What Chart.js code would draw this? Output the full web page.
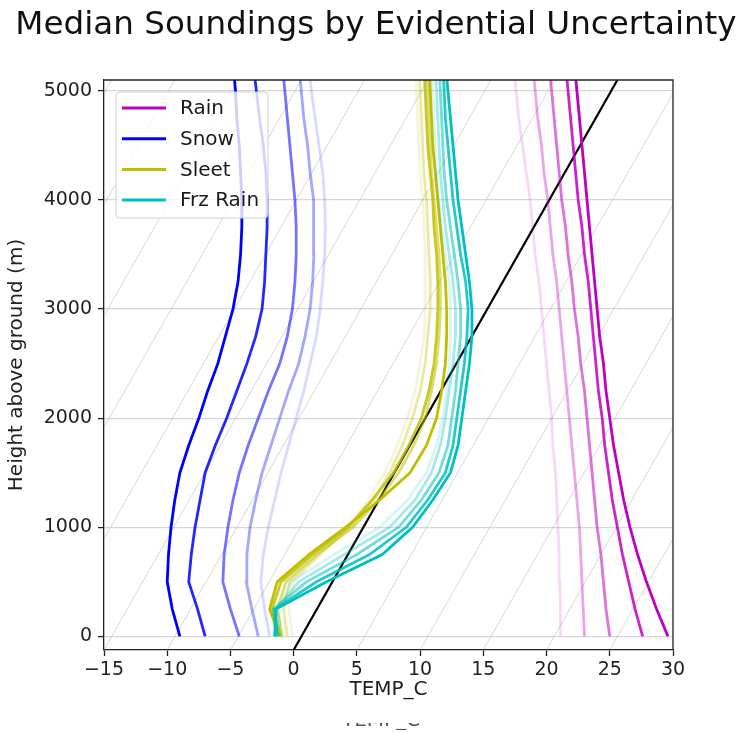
<!DOCTYPE html>
<html>
<head>
<meta charset="utf-8">
<script src="https://cdn.jsdelivr.net/npm/chart.js@4.4.1/dist/chart.umd.min.js"></script>
<style>
html,body{margin:0;padding:0;background:#fff;}
#wrap{position:relative;width:749px;height:733px;overflow:hidden;background:#fff;}
canvas{display:block;}
#title{position:absolute;left:0;top:7px;width:752px;text-align:center;font:32.6px "DejaVu Sans";line-height:1;color:#111;white-space:nowrap;}
#ghost{position:absolute;left:330px;top:723px;width:110px;height:7px;overflow:hidden;}
#ghost span{position:absolute;left:12px;top:-15.6px;font:20px "DejaVu Sans";color:#555;white-space:nowrap;}
</style>
</head>
<body>
<div id="wrap">
<canvas id="c" width="749" height="733"></canvas>
<div id="title">Median Soundings by Evidential Uncertainty</div>
<div id="ghost"><span>TEMP_C</span></div>
</div>
<script>
// ---- data ----
const heights = [0,250,500,750,1000,1250,1500,1750,2000,2250,2500,2750,3000,3250,3500,3750,4000,4250,4500,4750,5000,5250];

const rain1 = [29.6,28.7,27.9,27.2,26.6,26.1,25.7,25.3,25.0,24.7,24.5,24.2,24.0,23.8,23.6,23.4,23.2,23.0,22.8,22.6,22.4,22.2];
const rain2 = [27.6,27.0,26.5,26.0,25.6,25.2,24.9,24.6,24.4,24.1,23.9,23.7,23.5,23.3,23.0,22.8,22.5,22.3,22.1,21.9,21.7,21.5];
const rain3 = [25.0,24.7,24.5,24.3,24.0,23.8,23.6,23.4,23.2,23.0,22.7,22.5,22.2,22.0,21.7,21.5,21.2,21.0,20.8,20.6,20.4,20.2];
const rain4 = [23.0,22.9,22.8,22.7,22.6,22.4,22.2,22.0,21.8,21.6,21.4,21.2,21.0,20.8,20.5,20.3,20.1,19.8,19.6,19.3,19.1,18.9];
const rain5 = [21.1,21.1,21.05,21.0,20.9,20.8,20.7,20.5,20.4,20.2,20.0,19.8,19.6,19.4,19.1,18.9,18.7,18.4,18.1,17.8,17.6,17.4];

const snow1 = [-9.0,-9.6,-10.0,-9.9,-9.7,-9.4,-9.0,-8.3,-7.5,-6.8,-6.0,-5.4,-4.8,-4.4,-4.2,-4.1,-4.1,-4.2,-4.3,-4.5,-4.6,-4.8];
const snow2 = [-7.0,-7.6,-8.3,-8.1,-7.8,-7.4,-7.0,-6.2,-5.3,-4.5,-3.7,-3.0,-2.5,-2.3,-2.2,-2.1,-2.1,-2.2,-2.4,-2.7,-2.95,-3.2];
const snow3 = [-4.3,-5.0,-5.6,-5.5,-5.2,-4.8,-4.3,-3.6,-2.8,-2.0,-1.1,-0.5,-0.1,0.1,0.2,0.2,0.1,-0.1,-0.3,-0.5,-0.7,-0.9];
const snow4 = [-2.8,-3.3,-3.75,-3.7,-3.45,-3.0,-2.5,-1.8,-1.1,-0.4,0.4,0.9,1.3,1.5,1.6,1.6,1.55,1.3,1.1,0.8,0.6,0.4];
const snow5 = [-1.9,-2.3,-2.6,-2.4,-2.0,-1.5,-1.0,-0.4,0.2,0.8,1.3,1.8,2.1,2.3,2.45,2.5,2.45,2.3,2.0,1.7,1.4,1.2];

const sleet1 = [-1.1,-1.9,-1.3,1.2,4.1,6.8,9.2,10.5,11.3,11.7,12.0,12.1,12.1,12.0,11.8,11.6,11.4,11.2,11.0,10.9,10.8,10.7];
const sleet2 = [-1.0,-1.7,-1.0,1.5,4.3,6.2,7.9,9.1,10.1,10.7,11.1,11.3,11.4,11.4,11.3,11.1,11.0,10.8,10.6,10.5,10.4,10.3];
const sleet3 = [-0.9,-1.3,-0.6,1.8,4.7,6.7,8.3,9.5,10.4,10.9,11.3,11.5,11.6,11.6,11.5,11.3,11.1,10.9,10.8,10.7,10.6,10.5];
const sleet4 = [-0.5,-0.8,-0.3,2.0,4.5,6.3,7.6,8.6,9.4,10.0,10.4,10.6,10.8,10.8,10.7,10.6,10.5,10.3,10.2,10.1,10.0,9.9];
const sleet5 = [-0.1,-0.4,0.0,2.1,4.3,5.9,7.2,8.2,9.0,9.6,10.0,10.3,10.4,10.4,10.4,10.3,10.2,10.0,9.9,9.8,9.7,9.6];

const frz1 = [-1.5,-1.4,2.6,7.0,9.4,11.0,12.4,13.0,13.3,13.6,13.9,14.1,14.1,13.9,13.6,13.3,13.0,12.8,12.6,12.4,12.2,12.0];
const frz2 = [-1.3,-1.5,1.8,6.0,8.9,10.6,12.0,12.6,12.9,13.2,13.5,13.7,13.8,13.6,13.2,12.9,12.6,12.4,12.2,12.0,11.9,11.8];
const frz3 = [-1.4,-1.6,1.0,5.0,8.3,10.1,11.5,12.2,12.5,12.8,13.0,13.2,13.2,13.0,12.7,12.4,12.1,11.9,11.8,11.7,11.6,11.5];
const frz4 = [-1.2,-1.4,0.4,4.0,7.6,9.6,10.9,11.6,12.0,12.3,12.6,12.8,12.8,12.6,12.3,12.0,11.8,11.6,11.5,11.4,11.3,11.2];
const frz5 = [-1.0,-1.2,-0.2,3.2,6.8,9.0,10.5,11.3,11.8,12.1,12.3,12.4,12.4,12.3,12.0,11.7,11.5,11.3,11.2,11.1,11.0,10.9];

const classNames = ['Rain','Snow','Sleet','Frz Rain'];
const xTicks = [-15,-10,-5,0,5,10,15,20,25,30];
const yTicks = [0,1000,2000,3000,4000,5000];
const isothermBases = [-45,-40,-35,-30,-25,-20,-15,-10,-5,0,5,10,15,20,25,30];
const skew = 0.0049;          // deg C of horizontal shift per metre
const xMin = -15, xMax = 30, yMin = -125, yMax = 5100;

// ---- styling ----
const FONT = '"DejaVu Sans", sans-serif';
const classColors = {
  'Rain': [191,0,191],
  'Snow': [0,0,255],
  'Sleet': [191,191,0],
  'Frz Rain': [0,191,191]
};
const alphas = [1.0, 0.85, 0.55, 0.35, 0.15];
const rgba = (c,a) => `rgba(${c[0]},${c[1]},${c[2]},${a})`;

const groups = [
  ['Rain', [rain1,rain2,rain3,rain4,rain5], 400],
  ['Snow', [snow1,snow2,snow3,snow4,snow5], 300],
  ['Sleet', [sleet1,sleet2,sleet3,sleet4,sleet5], 200],
  ['Frz Rain', [frz1,frz2,frz3,frz4,frz5], 100]
];

const datasets = [];
// skewed isotherms (gray) and the 0 deg isotherm (black)
isothermBases.forEach(t0 => {
  datasets.push({
    data: [{x: t0, y: yMin}, {x: t0 + skew*(yMax - yMin), y: yMax}],
    borderColor: t0 === 0 ? '#000000' : 'rgba(160,160,160,0.42)',
    borderWidth: t0 === 0 ? 2.2 : 1,
    pointRadius: 0, showLine: true, tension: 0, clip: 0,
    order: t0 === 0 ? 500 : 1000
  });
});
groups.forEach(([name, lines, baseOrder]) => {
  lines.forEach((arr, k) => {
    datasets.push({
      label: name,
      data: heights.map((h, i) => ({x: arr[i], y: h})),
      borderColor: rgba(classColors[name], alphas[k]),
      borderWidth: 2.8,
      pointRadius: 0, showLine: true, tension: 0, clip: 0,
      order: baseOrder + k
    });
  });
});

const framePlugin = {
  id: 'frame',
  afterDatasetsDraw(chart) {
    const ctx = chart.ctx, a = chart.chartArea;
    // legend box
    const x0 = a.left + 12, y0 = a.top + 12, w = 152, h = 126;
    ctx.save();
    ctx.beginPath();
    if (ctx.roundRect) ctx.roundRect(x0, y0, w, h, 4); else ctx.rect(x0, y0, w, h);
    ctx.fillStyle = 'rgba(255,255,255,0.8)';
    ctx.fill();
    ctx.strokeStyle = '#cfcfcf';
    ctx.lineWidth = 1;
    ctx.stroke();
    classNames.forEach((name, i) => {
      const yy = y0 + 16 + i * 30.7;
      ctx.beginPath();
      ctx.moveTo(x0 + 6, yy);
      ctx.lineTo(x0 + 50, yy);
      ctx.strokeStyle = rgba(classColors[name], 1);
      ctx.lineWidth = 3;
      ctx.stroke();
      ctx.fillStyle = '#1a1a1a';
      ctx.font = '20px ' + FONT;
      ctx.textBaseline = 'middle';
      ctx.textAlign = 'left';
      ctx.fillText(name, x0 + 64, yy + 1);
    });
    // top and right spines
    ctx.beginPath();
    ctx.strokeStyle = '#222';
    ctx.lineWidth = 1.3;
    ctx.moveTo(a.left, a.top);
    ctx.lineTo(a.right, a.top);
    ctx.lineTo(a.right, a.bottom);
    ctx.stroke();
    ctx.restore();
  }
};

new Chart(document.getElementById('c'), {
  type: 'scatter',
  data: { datasets },
  plugins: [framePlugin],
  options: {
    responsive: false,
    animation: false,
    devicePixelRatio: 1,
    layout: { padding: { left: 0, right: 76, top: 80, bottom: 27 } },
    plugins: {
      legend: { display: false },
      tooltip: { enabled: false },
      title: { display: false }
    },
    scales: {
      x: {
        type: 'linear', min: xMin, max: xMax,
        afterBuildTicks: s => { s.ticks = xTicks.map(v => ({value: v})); },
        afterFit: s => { s.height = 56; },
        ticks: {
          autoSkip: false, maxRotation: 0, padding: 3,
          color: '#222', font: { family: FONT, size: 19 },
          callback: v => String(v).replace('-', '\u2212')
        },
        grid: { drawOnChartArea: false, drawTicks: true, tickLength: 6, tickColor: '#222', tickWidth: 1.3 },
        border: { display: true, color: '#222', width: 1.3 },
        title: { display: true, text: 'TEMP_C', color: '#222', font: { family: FONT, size: 20 }, padding: { top: 2, bottom: 4 } }
      },
      y: {
        type: 'linear', min: yMin, max: yMax,
        afterBuildTicks: s => { s.ticks = yTicks.map(v => ({value: v})); },
        afterFit: s => { s.width = 104; },
        ticks: { autoSkip: false, padding: 6, color: '#222', font: { family: FONT, size: 19 }, callback: v => String(v) },
        grid: { color: 'rgba(200,200,200,0.75)', lineWidth: 1.2, drawTicks: true, tickLength: 6, tickColor: '#222', tickWidth: 1.3 },
        border: { display: true, color: '#222', width: 1.3 },
        title: { display: true, text: 'Height above ground (m)', color: '#222', font: { family: FONT, size: 20 }, padding: { top: 5, bottom: 0 } }
      }
    }
  }
});
</script>
</body>
</html>
